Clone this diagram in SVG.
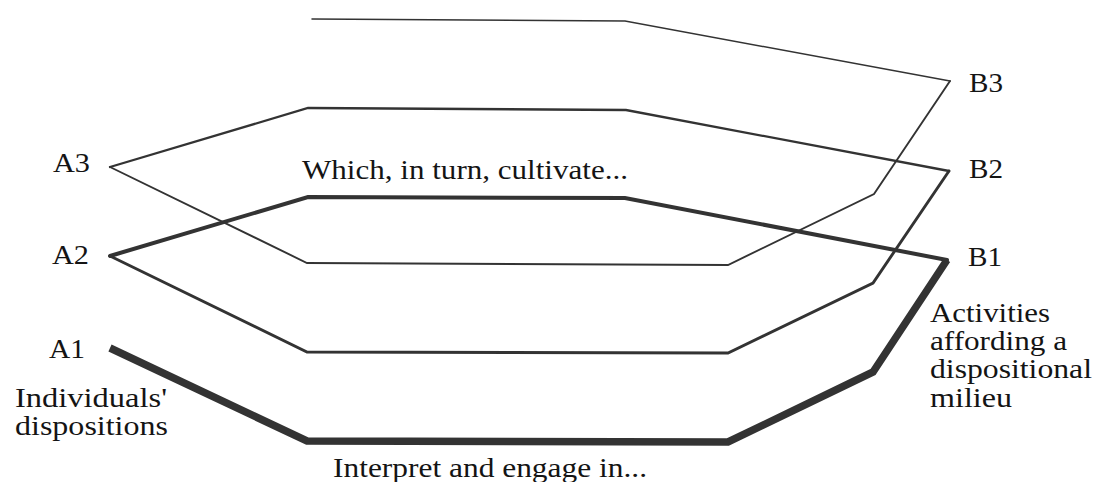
<svg xmlns="http://www.w3.org/2000/svg" width="1095" height="482" viewBox="0 0 1095 482">
  <style>
    .lbl { font-family: "Liberation Serif", "Times New Roman", serif; font-size: 28px; fill: #141414; }
    .sp { fill: none; stroke: #333333; stroke-linejoin: miter; stroke-miterlimit: 6; stroke-linecap: round; }
  </style>
  <rect width="1095" height="482" fill="#ffffff"/>
  <g id="connectors">
    <polyline class="sp" style="stroke-linecap:butt" stroke-width="7.5" points="110,348 307,441 728,442 873,372 947,260"/>
    <polyline class="sp" stroke-width="4" points="947,260 625,198 308,197 110,256"/>
    <polyline class="sp" stroke-width="2.9" points="110,256 307,352 728,353 873,283 949,171"/>
    <polyline class="sp" stroke-width="2.3" points="949,171 626,110 308,108 110,167"/>
    <polyline class="sp" stroke-width="1.9" points="110,167 307,263 728,265 874,194 950,81"/>
    <polyline class="sp" stroke-width="1.5" points="950,81 625,21 312,19"/>
  </g>
  <g id="A3"><text class="lbl" x="53" y="172" textLength="37" lengthAdjust="spacingAndGlyphs">A3</text></g>
  <g id="A2"><text class="lbl" x="52" y="264" textLength="37" lengthAdjust="spacingAndGlyphs">A2</text></g>
  <g id="A1"><text class="lbl" x="49" y="358" textLength="36" lengthAdjust="spacingAndGlyphs">A1</text></g>
  <g id="B3"><text class="lbl" x="969" y="92" textLength="34" lengthAdjust="spacingAndGlyphs">B3</text></g>
  <g id="B2"><text class="lbl" x="969" y="178" textLength="34" lengthAdjust="spacingAndGlyphs">B2</text></g>
  <g id="B1"><text class="lbl" x="968" y="266" textLength="34" lengthAdjust="spacingAndGlyphs">B1</text></g>
  <g id="cultivate"><text class="lbl" x="302" y="179" textLength="326" lengthAdjust="spacingAndGlyphs">Which, in turn, cultivate...</text></g>
  <g id="interpret"><text class="lbl" x="333" y="477" textLength="314" lengthAdjust="spacingAndGlyphs">Interpret and engage in...</text></g>
  <g id="dispositions">
    <text class="lbl" x="15" y="407" textLength="152" lengthAdjust="spacingAndGlyphs">Individuals'</text>
    <text class="lbl" x="15" y="435" textLength="153" lengthAdjust="spacingAndGlyphs">dispositions</text>
  </g>
  <g id="activities">
    <text class="lbl" x="930" y="322" textLength="120" lengthAdjust="spacingAndGlyphs">Activities</text>
    <text class="lbl" x="930" y="350" textLength="137" lengthAdjust="spacingAndGlyphs">affording a</text>
    <text class="lbl" x="930" y="378" textLength="162" lengthAdjust="spacingAndGlyphs">dispositional</text>
    <text class="lbl" x="930" y="407" textLength="82" lengthAdjust="spacingAndGlyphs">milieu</text>
  </g>
</svg>
